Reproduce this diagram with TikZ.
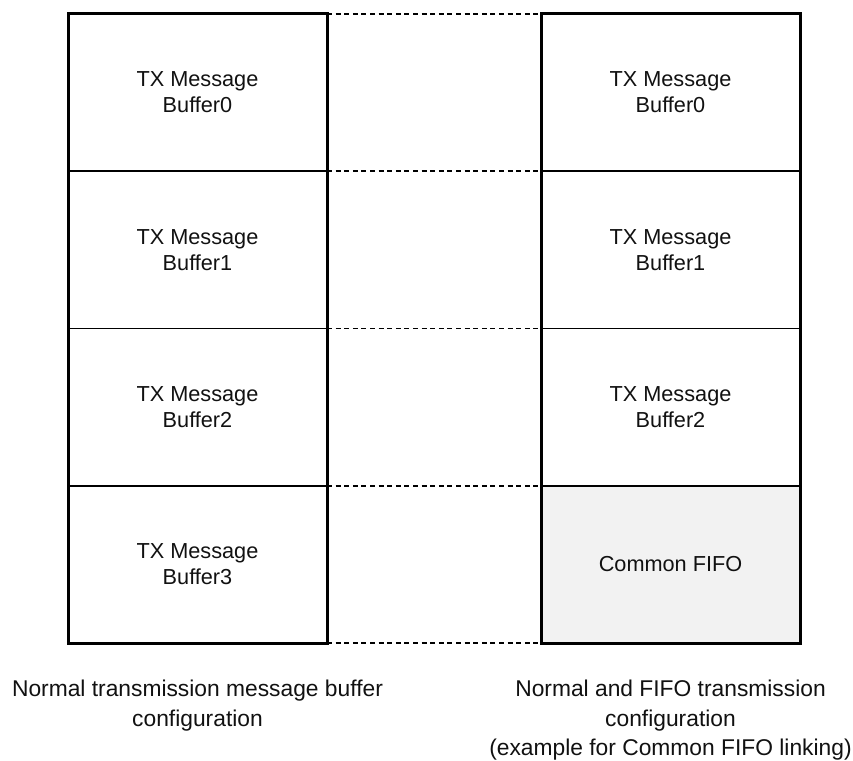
\documentclass[tikz,border=0pt]{standalone}
\usepackage{fontspec}
\setmainfont{Liberation Sans}
\usepackage{xcolor}
\usetikzlibrary{positioning}

\definecolor{fifogray}{HTML}{F2F2F2}
\definecolor{txtgray}{HTML}{111111}

\tikzset{
    cell/.style={draw, line width=1.6pt, rectangle, inner sep=0pt, outer sep=0pt,
        minimum width=259pt, minimum height=157.25pt, align=center,
        text=txtgray, font=\fontsize{21.7}{26}\selectfont},
    fifocell/.style={cell, fill=fifogray},
    outerline/.style={line width=3pt, line join=miter},
    linkline/.style={line width=1.6pt, dash pattern=on 5pt off 3.6pt},
    caption/.style={align=center, inner sep=0pt, anchor=north, text=txtgray,
        font=\fontsize{22.8}{29.5}\selectfont}
}

\begin{document}
\begin{tikzpicture}[x=1pt, y=-1pt]

    \useasboundingbox (0,0) rectangle (853,760);

    % =================================================================
    % 1. CỘT TRÁI: bộ đệm thông thường
    % =================================================================
    \node[cell] (l0) at (197.5, 92.625) {TX Message\\Buffer0};
    \node[cell, below=0pt of l0] (l1) {TX Message\\Buffer1};
    \node[cell, below=0pt of l1] (l2) {TX Message\\Buffer2};
    \node[cell, below=0pt of l2] (l3) {TX Message\\Buffer3};

    % =================================================================
    % 2. CỘT PHẢI: có Common FIFO
    % =================================================================
    \node[cell, right=214pt of l0] (r0) {TX Message\\Buffer0};
    \node[cell, below=0pt of r0] (r1) {TX Message\\Buffer1};
    \node[cell, below=0pt of r1] (r2) {TX Message\\Buffer2};
    \node[fifocell, below=0pt of r2] (r3) {Common FIFO};

    % Viền ngoài đậm
    \draw[outerline] (l0.north west) rectangle (l3.south east);
    \draw[outerline] (r0.north west) rectangle (r3.south east);

    % =================================================================
    % 3. ĐƯỜNG NÉT ĐỨT NỐI HAI CỘT
    % =================================================================
    \foreach \i in {0,1,2,3}
        \draw[linkline] (l\i.north east) -- (r\i.north west);
    \draw[linkline] (l3.south east) -- (r3.south west);

    % =================================================================
    % 4. CHÚ THÍCH
    % =================================================================
    \node[caption, below=37pt of l3] (capl)
        {Normal transmission message buffer\\configuration};
    \node[caption, below=37pt of r3] (capr)
        {Normal and FIFO transmission\\configuration\\(example for Common FIFO linking)};

\end{tikzpicture}
\end{document}
